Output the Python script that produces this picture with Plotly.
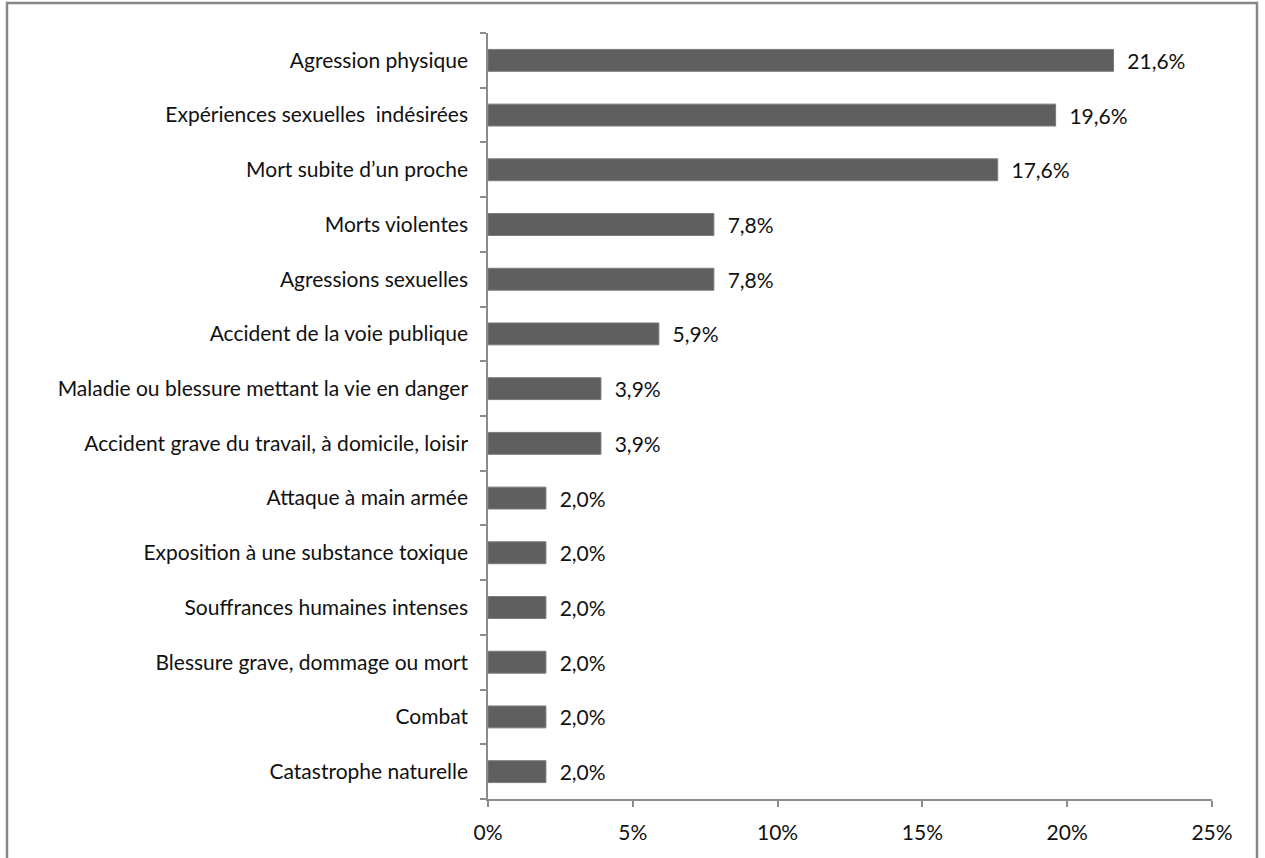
import plotly.graph_objects as go

categories = [
    "Agression physique",
    "Expériences sexuelles  indésirées",
    "Mort subite d’un proche",
    "Morts violentes",
    "Agressions sexuelles",
    "Accident de la voie publique",
    "Maladie ou blessure mettant la vie en danger",
    "Accident grave du travail, à domicile, loisir",
    "Attaque à main armée",
    "Exposition à une substance toxique",
    "Souffrances humaines intenses",
    "Blessure grave, dommage ou mort",
    "Combat",
    "Catastrophe naturelle",
]
values = [21.6, 19.6, 17.6, 7.8, 7.8, 5.9, 3.9, 3.9, 2.0, 2.0, 2.0, 2.0, 2.0, 2.0]
x_ticks = [0, 5, 10, 15, 20, 25]
x_tick_labels = ["0%", "5%", "10%", "15%", "20%", "25%"]

labels = ["  " + f"{v:.1f}".replace(".", ",") + "%" for v in values]

W, H = 1265, 858
L, R, T, B = 488, 1212, 33, 799

fig = go.Figure(go.Bar(
    x=values,
    y=categories,
    orientation="h",
    marker=dict(color="#5f5f5f", line=dict(color="#7a7a7a", width=1)),
    text=labels,
    textposition="outside",
    constraintext="none",
    cliponaxis=False,
    textfont=dict(size=21, color="#111111"),
    width=0.4,
))

FONT = "Lato, 'Open Sans', sans-serif"
fig.update_layout(
    width=W, height=H,
    margin=dict(l=L, r=W - R, t=T, b=H - B, autoexpand=False),
    paper_bgcolor="white",
    plot_bgcolor="white",
    font=dict(family=FONT, size=21, color="#111111"),
    showlegend=False,
    xaxis=dict(
        range=[0, 25],
        tickvals=x_ticks,
        ticktext=x_tick_labels,
        showgrid=False,
        zeroline=False,
        showline=True,
        linecolor="#8c8c8c",
        linewidth=1.5,
        ticks="outside",
        ticklen=6,
        tickcolor="#8c8c8c",
        tickwidth=1.5,
        ticklabelstandoff=8,
        tickfont=dict(size=21),
    ),
    yaxis=dict(
        categoryorder="array",
        categoryarray=categories[::-1],
        showgrid=False,
        zeroline=False,
        showline=True,
        linecolor="#8c8c8c",
        linewidth=1.5,
        ticks="outside",
        tickson="boundaries",
        ticklen=6,
        tickcolor="#8c8c8c",
        tickwidth=1.5,
        ticklabelstandoff=14,
        tickfont=dict(size=21),
    ),
    shapes=[dict(
        type="rect", xref="paper", yref="paper",
        x0=(7 - L) / (R - L), x1=(1257 - L) / (R - L),
        y0=(B - 875) / (B - T), y1=1 + (T - 3) / (B - T),
        line=dict(color="#878787", width=2.5),
        fillcolor="rgba(0,0,0,0)",
        layer="below",
    )],
)

fig.write_html(
    "out.html",
    config={"displayModeBar": False},
    post_script="document.body.style.margin='0';document.body.style.overflow='hidden';",
)
